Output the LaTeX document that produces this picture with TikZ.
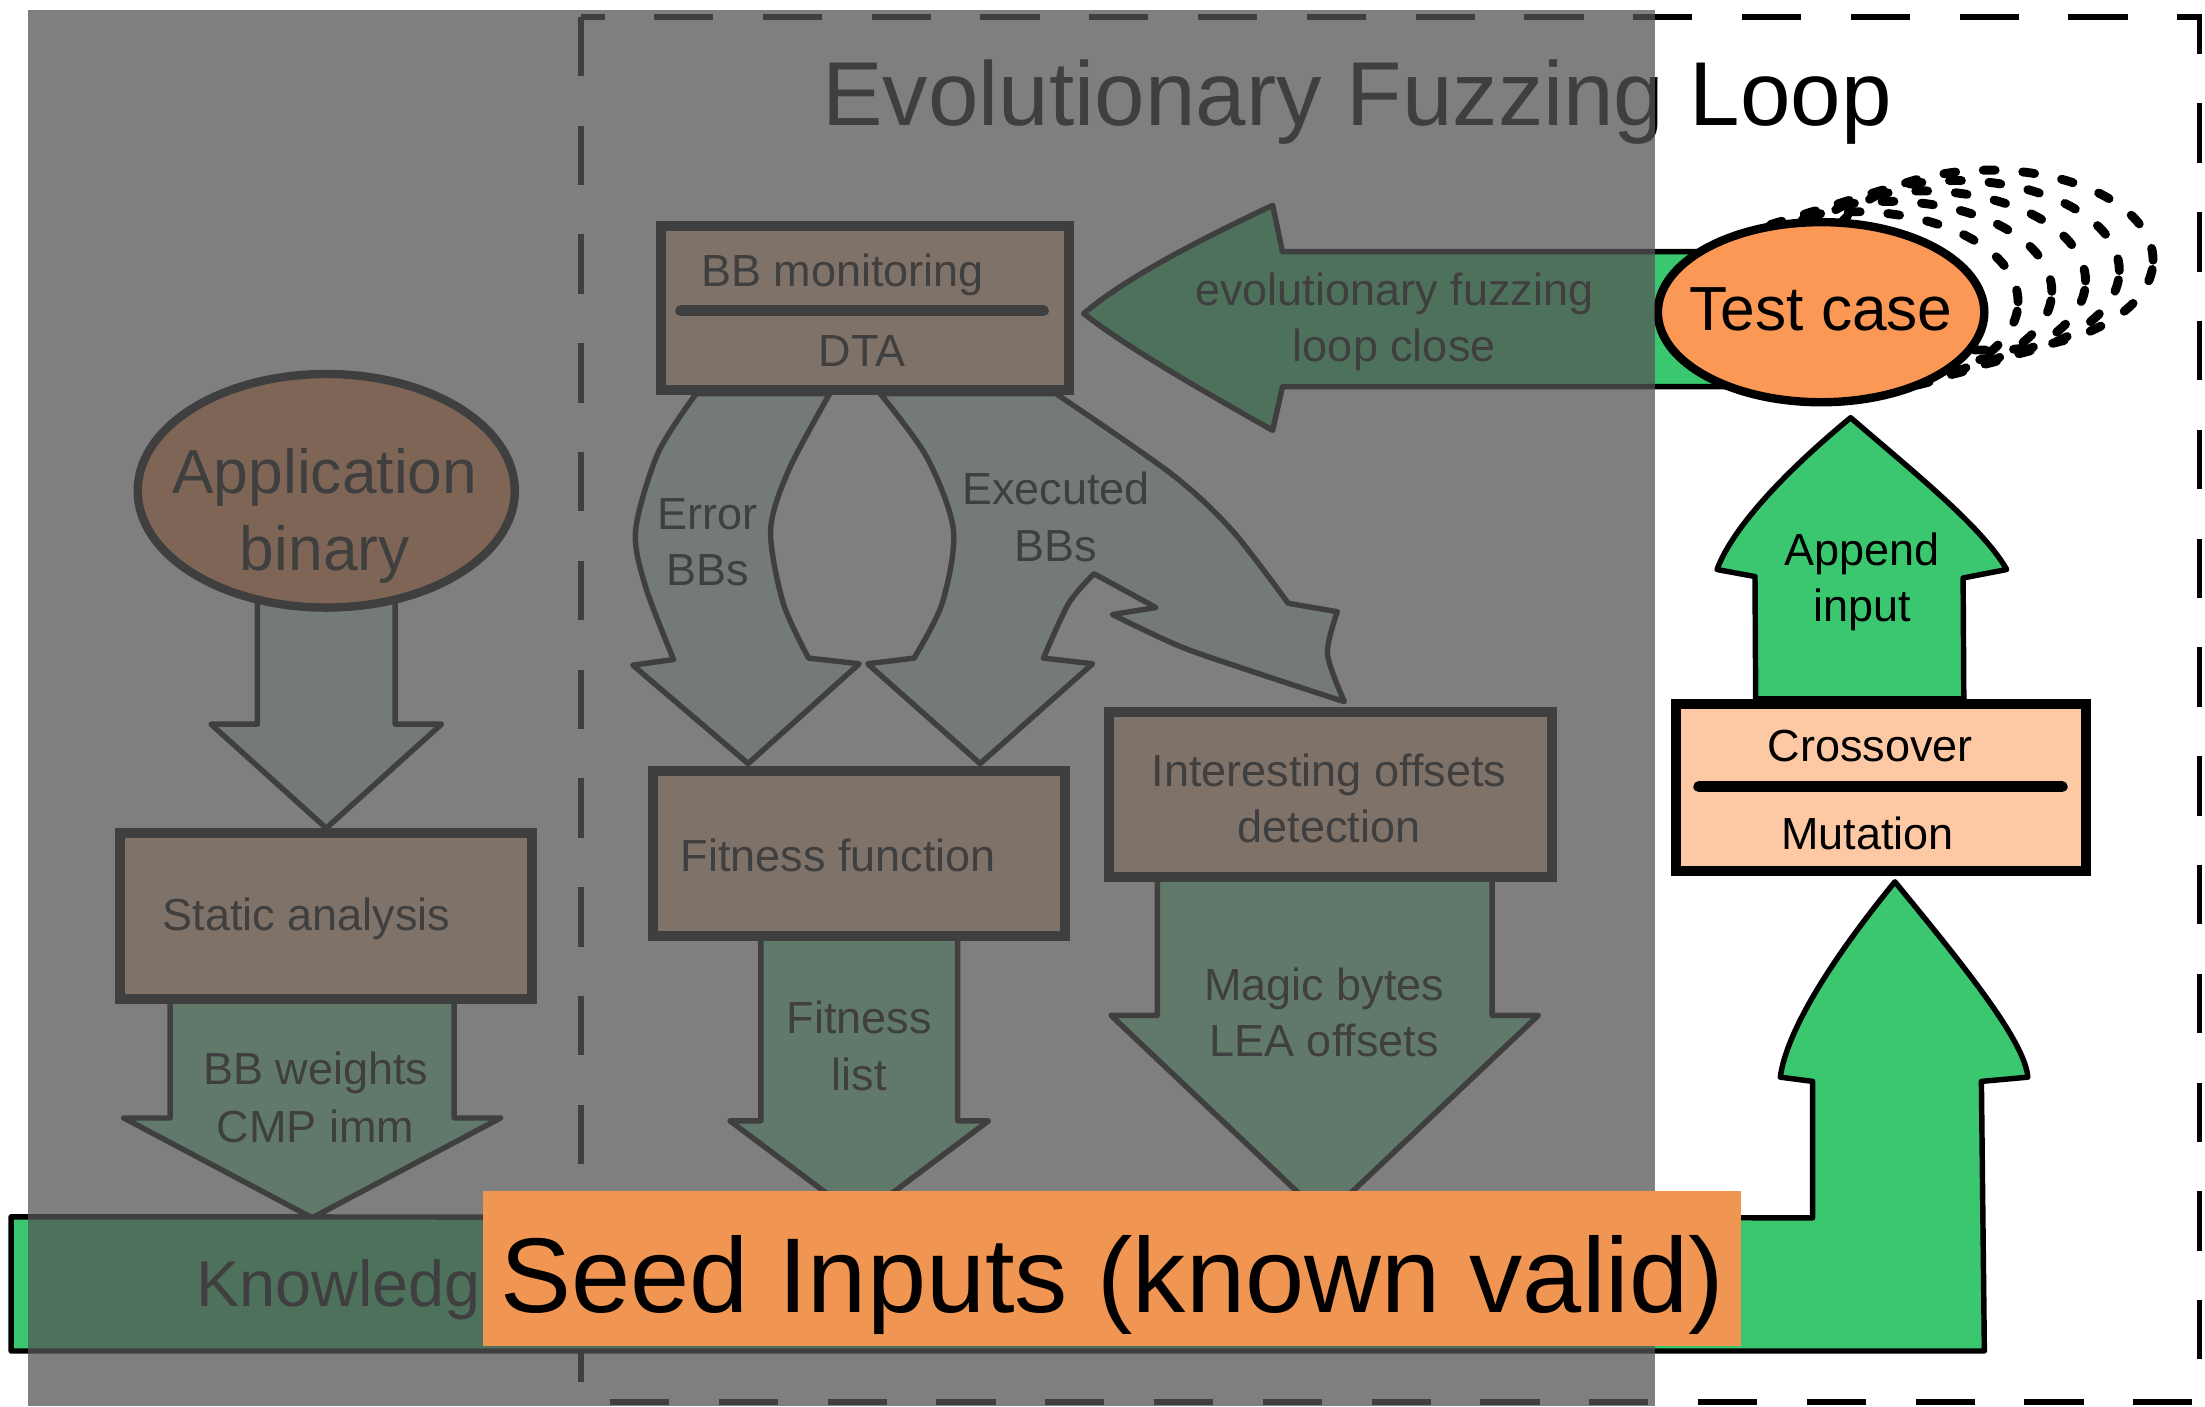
\documentclass[tikz,border=0pt]{standalone}
\usepackage{fontspec}
\setmainfont{Liberation Sans}
\usetikzlibrary{
        backgrounds,
        calc,
        positioning,
        shapes.geometric
    }
\definecolor{boxpeach}{RGB}{253,201,164}
\definecolor{nodeorange}{RGB}{251,152,86}
\definecolor{loopgreen}{RGB}{58,199,111}
\definecolor{mintgreen}{RGB}{136,230,176}
\definecolor{palegreen}{RGB}{212,236,216}
\definecolor{seedorange}{RGB}{240,149,82}
\definecolor{veilgray}{RGB}{85,85,85}
\tikzset{
    procbox/.style={rectangle,draw=black,line width=2pt,fill=boxpeach,inner sep=0pt},
    dataoval/.style={ellipse,draw=black,line width=1.7pt,fill=nodeorange,inner sep=0pt},
    splitline/.style={line width=2.2pt,line cap=round},
    palearrow/.style={draw=black,line width=1.1pt,line join=round,fill=palegreen},
    mintarrow/.style={draw=black,line width=1.1pt,line join=round,fill=mintgreen},
    greenarrow/.style={draw=black,line width=1.1pt,line join=round,fill=loopgreen},
    ghost/.style={line width=1.8pt,dash pattern=on 2.4pt off 5.6pt,line cap=round},
    frame/.style={line width=1.1pt,dash pattern=on 12pt off 10pt},
    veil/.style={fill=veilgray,opacity=0.75},
    lbl/.style={anchor=base,align=center,font=\fontsize{9.1}{11}\selectfont},
    biglbl/.style={anchor=base,font=\fontsize{12.6}{15}\selectfont}
}
% straight vertical block arrow: start, tip, shaft half width, head half width, head offset, style
\newcommand{\blockarrow}[6]{%
    \coordinate (ba-start) at (#1 -| #2);
    \draw[#6] ($(ba-start)+(-#3,0)$) -- ($(#2)+(-#3,#5)$) -- ($(#2)+(-#4,#5)$)
        -- (#2) -- ($(#2)+(#4,#5)$) -- ($(#2)+(#3,#5)$) -- ($(ba-start)+(#3,0)$) -- cycle;
}

\begin{document}
\begin{tikzpicture}[x=0.01cm,y=-0.01cm]
    \useasboundingbox (0,0) rectangle (1568,1000);

    \node[font=\fontsize{18.35}{22}\selectfont,anchor=base] (title) at (965,89) {Evolutionary Fuzzing Loop};

    % boxes and ovals
    \node[procbox,minimum width=2.90cm,minimum height=1.17cm] (bbmon) at (615,219) {};
    \node[procbox,minimum width=2.93cm,minimum height=1.18cm] (static) at (232,651.5) {};
    \node[procbox,minimum width=2.925cm,minimum height=1.17cm] (fitness) at (611,607) {};
    \node[procbox,minimum width=3.15cm,minimum height=1.175cm] (offsets) at (946,565) {};
    \node[procbox,minimum width=2.91cm,minimum height=1.19cm] (xover) at (1337.5,560) {};
    \node[dataoval,minimum width=2.68cm,minimum height=1.66cm] (appbin) at (232,349) {};
    \node[dataoval,minimum width=2.32cm,minimum height=1.28cm] (testcase) at (1295,222) {};
    \node[minimum width=14.01cm,minimum height=0.94cm,inner sep=0pt] (knowledge) at (709.5,913) {};

    % box texts
    \node[lbl] (bbmontop) at (599,203.5) {BB monitoring};
    \draw[splitline] ($(bbmon.center)+(-131,2)$) -- ($(bbmon.center)+(127,2)$);
    \node[lbl] (bbmonbot) at (613,260.5) {DTA};
    \node[lbl] (statictxt) at (218,661.5) {Static analysis};
    \node[lbl] (fitnesstxt) at (596,619.5) {Fitness function};
    \node[lbl] (offsetstxt) at (945,559) {Interesting offsets};
    \node[lbl] (offsetstxtb) at (945,599) {detection};
    \node[lbl] (xovertop) at (1330,541.5) {Crossover};
    \draw[splitline] ($(xover.center)+(-129.5,-0.6)$) -- ($(xover.center)+(129,-0.6)$);
    \node[lbl] (xoverbot) at (1328,604) {Mutation};
    \node[biglbl] (appbintop) at (231,350.8) {Application};
    \node[biglbl] (appbinbot) at (231,405.5) {binary};
    \node[biglbl] (testcasetxt) at (1295,234.7) {Test case};
    \node[anchor=base west,inner sep=0pt,font=\fontsize{13.1}{16}\selectfont] (knowtxt) at (139,929) {Knowledge};

    % arrow labels
    \node[lbl] (errtxt) at (503,376.5) {Error};
    \node[lbl] (errtxtb) at (503,416.5) {BBs};
    \node[lbl] (exetxt) at (751,358.5) {Executed};
    \node[lbl] (exetxtb) at (751,399.5) {BBs};
    \node[lbl] (looptxt) at (991.5,217) {evolutionary fuzzing};
    \node[lbl] (looptxtb) at (991.5,257) {loop close};
    \node[lbl] (appendtxt) at (1324,402) {Append};
    \node[lbl] (appendtxtb) at (1324,442) {input};
    \node[lbl] (wtxt) at (224.5,771.5) {BB weights};
    \node[lbl] (wtxtb) at (224.5,812.5) {CMP imm};
    \node[lbl] (flisttxt) at (611,735) {Fitness};
    \node[lbl] (flisttxtb) at (611,775.5) {list};
    \node[lbl] (magictxt) at (941.6,711.5) {Magic bytes};
    \node[lbl] (magictxtb) at (941.6,751) {LEA offsets};

    \coordinate (wtip) at (222,866);
    \coordinate (ftip) at (611,866);
    \coordinate (mtip) at (942,866);
    \coordinate (looptip) at ($(bbmon.east)+(7,4)$);
    \coordinate (appendtip) at ($(testcase.south)+(21,8)$);
    \coordinate (seedtip) at ($(xover.south)+(10,4)$);

    \begin{pgfonlayer}{background}
        \fill[white] (0,0) rectangle (1568,1000);
        \draw[frame] (413,12) rectangle (1564,997);

        \blockarrow{appbin.center}{static.north}{49}{82}{-74}{palearrow}
        \blockarrow{static.center}{wtip}{101}{134}{-71}{mintarrow}
        \blockarrow{fitness.center}{ftip}{70}{92}{-69}{mintarrow}
        \blockarrow{offsets.center}{mtip}{119}{152}{-144}{mintarrow}

        % Error BBs
        \draw[palearrow] plot[smooth] coordinates {(495,280) (468,322) (452,377) (459,417) (479,469)}
            -- (450,473) -- (532,543) -- (611,472) -- (575,468)
            -- plot[smooth] coordinates {(575,468) (557,429) (548,377) (561,334) (590,280)} -- cycle;
        % Executed BBs, forked
        \draw[palearrow] plot[smooth] coordinates {(626,280) (659,325) (678,377) (670,429) (650,468)}
            -- (617,472) -- (697,543) -- (777,472) -- (742,468)
            -- plot[smooth] coordinates {(742,468) (760,429) (778,408)}
            -- (822,432) -- (791,437)
            -- plot[smooth] coordinates {(791,437) (840,460) (895,479) (956,499)}
            -- plot[smooth] coordinates {(956,499) (944,465) (951,435)}
            -- (916,429)
            -- plot[smooth] coordinates {(916,429) (876,377) (833,337) (751,280)} -- cycle;

        % loop close
        \draw[greenarrow] ($(testcase.center)+(0,-43)$) -- (912,179) -- (905,146)
            .. controls (850,172) and (800,198) .. (looptip)
            .. controls (800,246) and (850,275) .. (905,306) -- (912,275)
            -- ($(testcase.center)+(0,53)$) -- cycle;
        % append input
        \draw[greenarrow] ($(xover.north)+(-89,0)$) -- (1248,410) -- (1221,405)
            .. controls (1232,375) and (1270,335) .. (appendtip)
            .. controls (1360,335) and (1410,375) .. (1427,405) -- (1396,411)
            -- ($(xover.north)+(59,0)$) -- cycle;
        % knowledge bar and seed arrow
        \draw[greenarrow] (knowledge.south west) -- (knowledge.north west) -- (1289,866) -- (1289,769)
            -- (1266,766) .. controls (1270,735) and (1300,685) .. (seedtip)
            .. controls (1395,685) and (1440,740) .. (1442,766) -- (1409,769)
            -- (knowledge.south east) -- cycle;

        \foreach \k in {1,...,5}
            \draw[ghost] ($(testcase.center)+(24*\k,-7.4*\k)$) ellipse [x radius=1.16cm,y radius=0.64cm];
    \end{pgfonlayer}

    % veil over the left part
    \fill[veil] (20,7) rectangle (1177,1000);

    \node[fill=seedorange,inner sep=0pt,minimum width=8.94cm,minimum height=1.10cm] (seed) at (791,902) {};
    \node[anchor=base,font=\fontsize{21.5}{24}\selectfont] (seedtxt) at (791,933) {Seed Inputs (known valid)};
\end{tikzpicture}
\end{document}
